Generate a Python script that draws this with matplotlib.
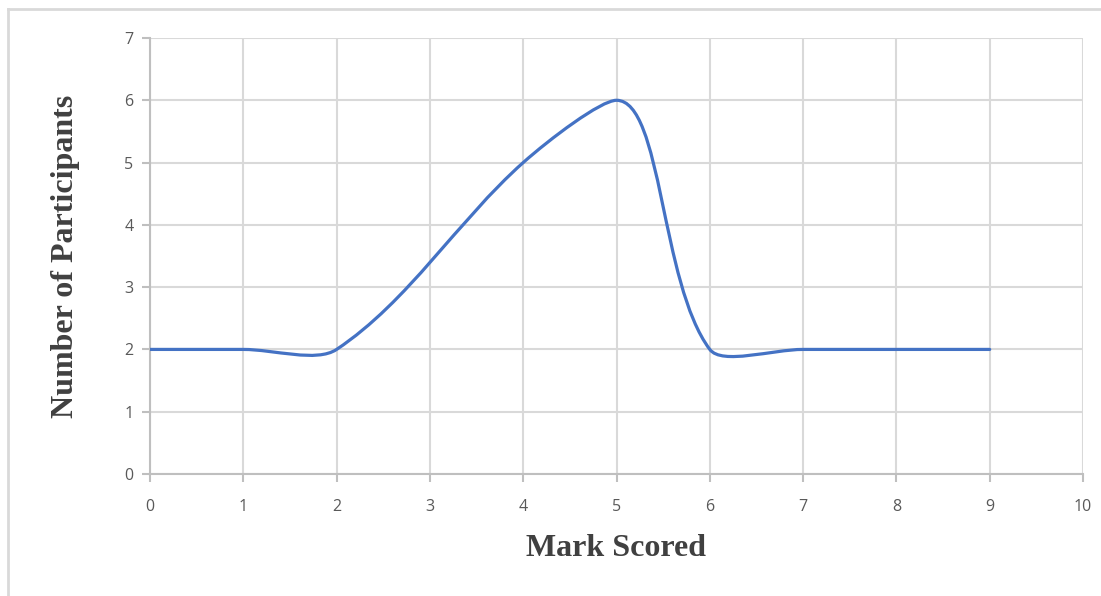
import numpy as np
import matplotlib.pyplot as plt
from matplotlib.path import Path
from matplotlib.patches import PathPatch
from matplotlib.lines import Line2D

# Data
marks = [0, 1, 2, 4, 5, 6, 7, 8, 9]
participants = [2, 2, 2, 5, 6, 2, 2, 2, 2]

x_ticks = list(range(0, 11))
y_ticks = list(range(0, 8))

line_color = '#4472c4'
grid_color = '#d9d9d9'
axis_color = '#bfbfbf'
text_color = '#595959'


# Smoothed line like a spreadsheet chart: cubic bezier segments,
# tangent from neighbours, flattened at peaks, split by chord length
def smooth_path(xs, ys, tension=0.33):
    pts = np.column_stack([xs, ys]).astype(float)
    n = len(pts)
    tang = []
    for i in range(n):
        prev = pts[max(i - 1, 0)]
        nxt = pts[min(i + 1, n - 1)]
        t = nxt - prev
        if 0 < i < n - 1:
            yp, yc, yn = pts[i - 1, 1], pts[i, 1], pts[i + 1, 1]
            if (yc > yp and yc > yn) or (yc < yp and yc < yn):
                t = np.array([t[0], 0.0])
        dl = np.linalg.norm(pts[i] - prev)
        dr = np.linalg.norm(nxt - pts[i])
        tot = dl + dr if dl + dr > 0 else 1.0
        tang.append((t * tension * dl / tot, t * tension * dr / tot))
    verts = [pts[0]]
    codes = [Path.MOVETO]
    for i in range(n - 1):
        verts += [pts[i] + tang[i][1], pts[i + 1] - tang[i + 1][0], pts[i + 1]]
        codes += [Path.CURVE4] * 3
    return Path(verts, codes)


fig = plt.figure(figsize=(11.01, 5.96), dpi=100)
ax = fig.add_axes([150 / 1101, 1 - 474 / 596, (1083 - 150) / 1101, (474 - 38) / 596])

ax.add_patch(PathPatch(smooth_path(marks, participants), facecolor='none',
                       edgecolor=line_color, lw=2.3, capstyle='round', zorder=3))

ax.set_xlim(0, 10)
ax.set_ylim(0, 7)
ax.set_xticks(x_ticks)
ax.set_yticks(y_ticks)
ax.grid(True, color=grid_color, lw=1.5)
ax.set_axisbelow(True)

for side in ['top', 'right']:
    ax.spines[side].set_visible(False)
for side in ['left', 'bottom']:
    ax.spines[side].set_color(axis_color)
    ax.spines[side].set_linewidth(1.5)

ax.tick_params(axis='both', colors=axis_color, width=1.5, length=6,
               labelcolor=text_color, labelsize=11.5)
ax.tick_params(axis='x', pad=12)
ax.tick_params(axis='y', pad=6)
for lab in ax.get_xticklabels() + ax.get_yticklabels():
    lab.set_fontfamily('Open Sans')

ax.set_xlabel('Mark Scored', fontsize=23, fontweight='bold', family='Liberation Serif',
              color='#404040', labelpad=14)
ax.set_ylabel('Number of Participants', fontsize=23, fontweight='bold',
              family='Liberation Serif', color='#404040', labelpad=32)

# light frame of the chart box (top and left edges)
fig.add_artist(Line2D([8 / 1101, 8 / 1101], [0, 1 - 9 / 596], transform=fig.transFigure,
                      color='#d9d9d9', lw=2))
fig.add_artist(Line2D([8 / 1101, 1], [1 - 9 / 596, 1 - 9 / 596], transform=fig.transFigure,
                      color='#d9d9d9', lw=2))

plt.savefig('out.png', dpi=100)
